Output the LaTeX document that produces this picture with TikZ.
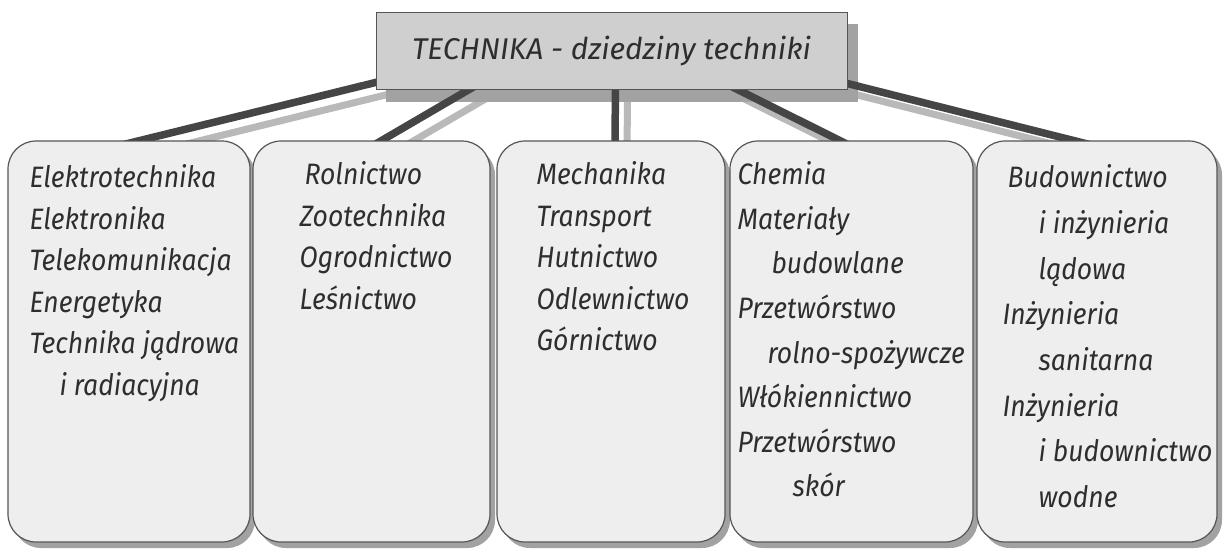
\documentclass[tikz,border=0pt]{standalone}
\usepackage{fontspec}
\setmainfont{Fira Sans}
\newfontfamily\handfont{Fira Sans}[FakeStretch=0.9]
\usetikzlibrary{calc, backgrounds, shadows}
\definecolor{cline}{HTML}{454545}
\definecolor{cshade}{HTML}{B9B9B9}
\definecolor{cdrop}{HTML}{A2A2A2}
\definecolor{ctitle}{HTML}{CFCFCF}
\definecolor{cbox}{HTML}{EEEEEE}
\definecolor{cedge}{HTML}{555555}
\definecolor{ctext}{HTML}{2E2E2E}

\begin{document}
\begin{tikzpicture}[x=1pt, y=-1pt,
  headbox/.style={draw=cedge, line width=1pt, fill=ctitle, minimum width=471pt, minimum height=77pt,
    inner sep=0pt, text=ctext, font=\itshape\fontsize{30}{36}\selectfont},
  field/.style={draw=cedge, line width=1.2pt, fill=cbox, rounded corners=28pt, minimum height=401pt,
    inner sep=0pt, general shadow={fill=cdrop, shadow xshift=5pt, shadow yshift=-6pt}},
  items/.style={anchor=north west, align=left, inner sep=0pt, text=ctext,
    font=\handfont\itshape\fontsize{29.5}{#1}\selectfont},
  items/.default=41.5,
  link/.style={line width=7.5pt, cline},
  linkshade/.style={line width=7pt, cshade}]
  \useasboundingbox (0,0) rectangle (1229,550);

  % title and the five fields
  \node[headbox] (title) at (611.5,50.5) {TECHNIKA - dziedziny techniki};
  \foreach \n/\cx/\w in {1/129/242, 2/371.5/237, 3/611/228, 4/851.5/243, 5/1097/240}{
    \node[field, minimum width=\w pt] (b\n) at (\cx,341.5) {};
  }

  \node[items] (t1) at ($(b1.north west)+(22,24)$) {Elektrotechnika\\ Elektronika\\ Telekomunikacja\\
    Energetyka\\ Technika jądrowa\\ \hspace*{30pt}i radiacyjna};
  \node[items] (t2) at ($(b2.north west)+(47,21)$) {\hspace*{5pt}Rolnictwo\\ Zootechnika\\ Ogrodnictwo\\ Leśnictwo};
  \node[items] (t3) at ($(b3.north west)+(40,21)$) {Mechanika\\ Transport\\ Hutnictwo\\ Odlewnictwo\\ Górnictwo};
  \node[items=44.6] (t4) at ($(b4.north west)+(8,21)$) {Chemia\\ Materiały\\ \hspace*{34pt}budowlane\\ Przetwórstwo\\
    \hspace*{30pt}rolno-spożywcze\\ Włókiennictwo\\ Przetwórstwo\\ \hspace*{55pt}skór};
  \node[items=45.7] (t5) at ($(b5.north west)+(26,24)$) {\hspace*{5pt}Budownictwo\\ \hspace*{36pt}i inżynieria\\
    \hspace*{36pt}lądowa\\ Inżynieria\\ \hspace*{36pt}sanitarna\\ Inżynieria\\ \hspace*{36pt}i budownictwo\\
    \hspace*{36pt}wodne};

  % connectors with their shadows
  \begin{scope}[on background layer]
    \foreach \n/\sx/\ex in {1/-228/-13, 2/-127/0, 3/4/4, 4/108/0, 5/224/0}{
      \draw[linkshade] ($(title.south)+(\sx,-9)+(12,12)$) -- ($(b\n.north)+(\ex,6)+(12,12)$);
    }
    \fill[cdrop] ($(title.north west)+(10,12)$) rectangle ($(title.south east)+(10,12)$);
    \foreach \n/\sx/\ex in {1/-228/-13, 2/-127/0, 3/4/4, 4/108/0, 5/224/0}{
      \draw[link] ($(title.south)+(\sx,-9)$) -- ($(b\n.north)+(\ex,6)$);
    }
  \end{scope}
\end{tikzpicture}
\end{document}
